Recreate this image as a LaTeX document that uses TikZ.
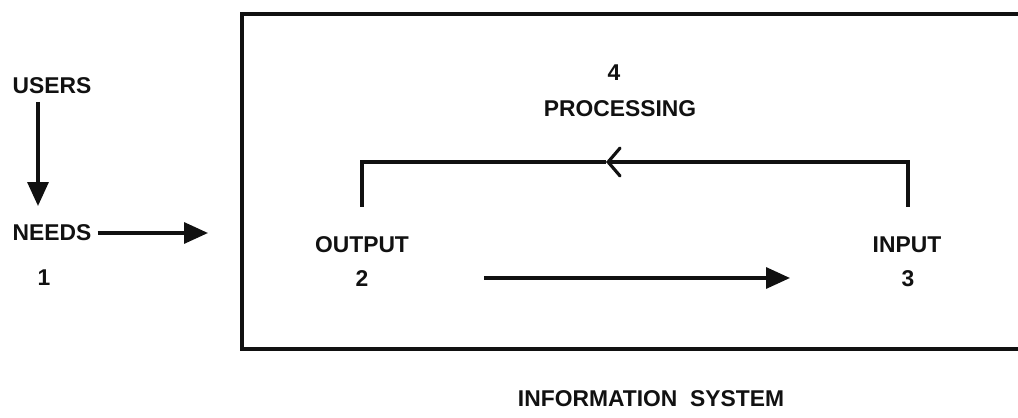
\documentclass[tikz,border=0pt]{standalone}
\usepackage{fontspec}
\setmainfont{Liberation Sans}
\usepackage{xcolor}
\usetikzlibrary{arrows.meta,positioning}
\definecolor{ink}{HTML}{111111}

\begin{document}
\begin{tikzpicture}[x=0.02cm,y=-0.02cm,
  lab/.style={font=\bfseries\fontsize{13}{15.6}\selectfont,text=ink,inner sep=0pt},
  fat/.style={draw=ink,line width=1.9pt,-{Triangle[length=0.48cm,width=0.42cm]}},
  loop/.style={draw=ink,line width=1.8pt},
  sysbox/.style={draw=ink,line width=2.7pt}]
\useasboundingbox (0,0) rectangle (1018,418);
% left side: users and their needs
\node[lab] (users) at (52,86) {USERS};
\node[lab] (needs) at (52,233) {NEEDS};
\node[lab] (one) at (44,278) {1};
\coordinate (usersdn) at (38,102);
\coordinate (needsup) at (38,206);
\coordinate (sysin) at (208,233);
\draw[fat] (usersdn) -- (needsup);
\draw[fat] ([xshift=0.12cm]needs.east) -- (sysin);
% the system, open to the right
\draw[sysbox] (1030,14) -- (242,14) -- (242,349) -- (1030,349);
\node[lab] (four) at (614,73) {4};
\node[lab] (proc) at (620,109) {PROCESSING};
\node[lab] (output) at (362,245) {OUTPUT};
\node[lab] (two) at (362,279) {2};
\node[lab] (input) at (907,245) {INPUT};
\node[lab] (three) at (908,279) {3};
% output to input
\coordinate (flowa) at (484,278);
\coordinate (flowb) at (790,278);
\draw[fat] (flowa) -- (flowb);
% feedback through processing
\coordinate (intop) at (908,207);
\coordinate (outtop) at (362,207);
\coordinate (chev) at (606,162);
\draw[loop,-{Straight Barb[length=0.24cm,width=0.56cm,line cap=round]}] (intop) |- (chev);
\draw[loop] (chev) -| (outtop);
\node[lab] (title) at (651,399) {INFORMATION\ \ SYSTEM};
\end{tikzpicture}
\end{document}
